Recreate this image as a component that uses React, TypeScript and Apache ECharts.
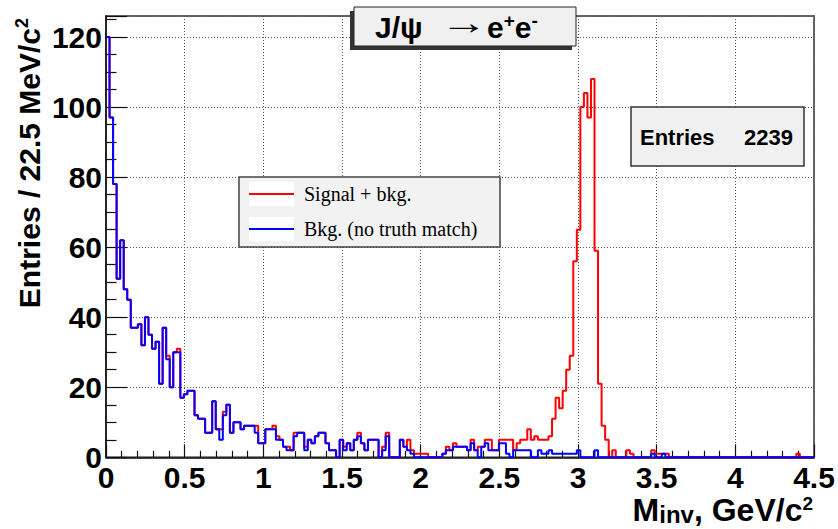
import React, { useEffect, useRef } from "react";
import * as echarts from "echarts";

// Histogram binning: 200 bins of 22.5 MeV from 0 to 4.5 GeV/c^2
const BIN_WIDTH = 0.0225;
const X_MIN = 0;
const X_MAX = 4.5;
const Y_MAX = 126;

const SERIES_NAMES = ["Signal + bkg.", "Bkg. (no truth match)"];
const ENTRIES = 2239;

// Background (no truth match) counts per bin
const bkgCounts = [
  120, 97, 78, 51, 62, 48, 45, 37, 37, 38,
  32, 40, 35, 31, 33, 21, 37, 28, 20, 30,
  30, 17, 18, 19, 19, 12, 11, 11, 7, 7,
  16, 8, 5, 12, 15, 7, 10, 10, 8, 9,
  9, 9, 7, 4, 4, 8, 8, 8, 5, 5,
  3, 2, 2, 6, 7, 7, 2, 5, 4, 6,
  7, 7, 4, 2, 2, 0, 5, 2, 4, 2,
  5, 6, 4, 2, 5, 5, 5, 0, 2, 6,
  0, 0, 0, 5, 3, 2, 1, 0, 0, 0,
  0, 0, 0, 0, 0, 1, 2, 2, 3, 3,
  3, 3, 2, 4, 2, 0, 3, 4, 2, 2,
  2, 4, 4, 1, 0, 2, 2, 2, 2, 2,
  0, 0, 2, 1, 1, 2, 1, 1, 1, 1,
  1, 1, 1, 2, 0, 0, 0, 0, 2, 0,
  0, 0, 0, 0, 0, 0, 0, 0, 0, 0,
  0, 0, 0, 0, 1, 0, 0, 1, 0, 0,
  0, 0, 0, 0, 0, 0, 0, 0, 0, 0,
  0, 0, 0, 0, 0, 0, 0, 0, 0, 0,
  0, 0, 0, 0, 0, 0, 0, 0, 0, 0,
  0, 0, 0, 0, 0, 0, 0, 0, 0, 0,
];

// Signal + background counts per bin
const totalCounts = [
  120, 97, 78, 51, 62, 48, 45, 37, 37, 38,
  32, 40, 35, 31, 33, 21, 37, 29, 20, 30,
  31, 17, 18, 19, 19, 12, 11, 11, 7, 7,
  16, 8, 8, 13, 15, 7, 10, 10, 8, 9,
  9, 9, 9, 4, 4, 8, 8, 9, 6, 5,
  3, 3, 2, 7, 7, 7, 3, 5, 4, 6,
  7, 7, 4, 2, 2, 0, 5, 3, 4, 2,
  5, 7, 4, 2, 5, 5, 5, 0, 3, 7,
  0, 0, 0, 5, 3, 5, 2, 1, 1, 1,
  1, 0, 0, 0, 0, 1, 3, 2, 4, 3,
  3, 3, 2, 5, 2, 3, 3, 5, 5, 2,
  2, 5, 5, 5, 5, 2, 4, 5, 5, 8,
  5, 6, 5, 5, 5, 6, 11, 17, 14, 19,
  25, 29, 56, 65, 100, 104, 97, 108, 59, 21,
  9, 5, 0, 2, 0, 0, 0, 2, 1, 0,
  0, 0, 0, 0, 2, 1, 1, 1, 1, 0,
  0, 0, 0, 0, 0, 0, 0, 0, 0, 0,
  0, 0, 0, 0, 0, 0, 0, 0, 0, 0,
  0, 0, 0, 0, 0, 0, 0, 0, 0, 0,
  0, 0, 0, 0, 0, 1, 0, 0, 0, 0,
];

function toSteps(counts: number[]): number[][] {
  const pts = counts.map((v, i) => [Number((i * BIN_WIDTH).toFixed(4)), v]);
  pts.push([counts.length * BIN_WIDTH, counts[counts.length - 1]]);
  return pts;
}

const SANS = "'Liberation Sans', Arial, Helvetica, sans-serif";
const SERIF = "'Liberation Serif', 'Times New Roman', serif";

export default function App() {
  const ref = useRef<HTMLDivElement>(null);

  useEffect(() => {
    if (!ref.current) return;
    const chart = echarts.init(ref.current, undefined, { renderer: "svg" });
    const gridLine = { color: "#555", type: [1, 2] as any, width: 1 };
    const option: any = {
      animation: false,
      backgroundColor: "#ffffff",
      grid: {
        left: 106,
        right: 24,
        top: 16,
        bottom: 71.7,
        show: true,
        borderColor: "#666",
        borderWidth: 2,
        backgroundColor: "transparent",
      },
      xAxis: {
        type: "value",
        min: X_MIN,
        max: X_MAX,
        interval: 0.5,
        axisLine: { show: true, onZero: false, lineStyle: { color: "#111", width: 1.5 } },
        axisTick: { show: true, inside: true, length: 13, lineStyle: { color: "#111", width: 1.2 } },
        minorTick: { show: true, splitNumber: 5, length: 6.5, lineStyle: { color: "#111", width: 1.2 } },
        splitLine: { show: true, lineStyle: gridLine },
        axisLabel: {
          fontFamily: SANS,
          fontWeight: "bold",
          fontSize: 30,
          color: "#000",
          margin: 5,
        },
      },
      yAxis: {
        type: "value",
        min: 0,
        max: Y_MAX,
        interval: 20,
        axisLine: { show: true, onZero: false, lineStyle: { color: "#111", width: 1.5 } },
        axisTick: { show: true, inside: true, length: 21, lineStyle: { color: "#111", width: 1.2 } },
        minorTick: { show: true, splitNumber: 4, length: 10.5, lineStyle: { color: "#111", width: 1.2 } },
        splitLine: { show: true, lineStyle: gridLine },
        axisLabel: {
          fontFamily: SANS,
          fontWeight: "bold",
          fontSize: 30,
          color: "#000",
          margin: 4,
          formatter: (v: number) => (v % 20 === 0 ? String(v) : ""),
        },
      },
      legend: {
        data: SERIES_NAMES,
        orient: "vertical",
        left: 239,
        top: 177,
        padding: [5, 10, 6, 10],
        itemGap: 11,
        itemWidth: 45,
        itemHeight: 2,
        icon: "rect",
        selectedMode: false,
        backgroundColor: "transparent",
        z: 6,
        textStyle: {
          fontFamily: SERIF,
          fontSize: 20,
          color: "#000",
          lineHeight: 24,
          padding: [0, 0, 0, 5],
        },
      },
      series: [
        {
          name: SERIES_NAMES[0],
          type: "line",
          step: "end",
          data: toSteps(totalCounts),
          symbol: "none",
          showSymbol: false,
          clip: false,
          z: 3,
          lineStyle: { color: "#ff0000", width: 2 },
          itemStyle: { color: "#ff0000" },
        },
        {
          name: SERIES_NAMES[1],
          type: "line",
          step: "end",
          data: toSteps(bkgCounts),
          symbol: "none",
          showSymbol: false,
          clip: false,
          z: 4,
          lineStyle: { color: "#0000ff", width: 2 },
          itemStyle: { color: "#0000ff" },
        },
      ],
      graphic: [
        // legend box background
        {
          type: "rect",
          z: 5,
          shape: { x: 239, y: 177, width: 261, height: 70 },
          style: { fill: "#f2f2f2", stroke: "#444", lineWidth: 1.5 },
        },
        {
          type: "rect",
          z: 5,
          shape: { x: 249, y: 182, width: 45, height: 24 },
          style: { fill: "#ffffff" },
        },
        {
          type: "rect",
          z: 5,
          shape: { x: 249, y: 217, width: 45, height: 24 },
          style: { fill: "#ffffff" },
        },
        // title box with shadow
        {
          type: "rect",
          z: 10,
          shape: { x: 350, y: 11, width: 222, height: 39 },
          style: { fill: "#333" },
        },
        {
          type: "rect",
          z: 10,
          shape: { x: 354, y: 7, width: 222, height: 39 },
          style: { fill: "#f0f0f0", stroke: "#222", lineWidth: 1 },
        },
        {
          type: "text",
          z: 11,
          x: 375,
          y: 27,
          style: {
            text: "J/ψ",
            font: `bold 30px ${SANS}`,
            fill: "#000",
            textAlign: "left",
            textVerticalAlign: "middle",
          },
        },
        {
          type: "text",
          z: 11,
          x: 440,
          y: 22,
          scaleX: 1.4,
          style: {
            text: "→",
            font: `normal 34px ${SANS}`,
            fill: "#000",
            textAlign: "left",
            textVerticalAlign: "middle",
          },
        },
        {
          type: "text",
          z: 11,
          x: 487,
          y: 27,
          style: {
            text: "{b|e}{s|+}{b|e}{s|-}",
            textVerticalAlign: "middle",
            textAlign: "left",
            rich: {
              b: { fontFamily: SANS, fontWeight: "bold", fontSize: 30, fill: "#000", lineHeight: 32 },
              s: { fontFamily: SANS, fontWeight: "bold", fontSize: 19, fill: "#000", lineHeight: 14, verticalAlign: "top" },
            },
          },
        },
        // stats box
        {
          type: "rect",
          z: 10,
          shape: { x: 631, y: 107, width: 173, height: 59 },
          style: { fill: "#f0f0f0", stroke: "#333", lineWidth: 1.5 },
        },
        {
          type: "text",
          z: 11,
          x: 640,
          y: 137,
          style: {
            text: "Entries",
            font: `bold 22px ${SANS}`,
            fill: "#000",
            textAlign: "left",
            textVerticalAlign: "middle",
          },
        },
        {
          type: "text",
          z: 11,
          x: 793,
          y: 137,
          style: {
            text: String(ENTRIES),
            font: `bold 22px ${SANS}`,
            fill: "#000",
            textAlign: "right",
            textVerticalAlign: "middle",
          },
        },
        // y axis title
        {
          type: "text",
          z: 11,
          x: 29,
          y: 18,
          rotation: Math.PI / 2,
          style: {
            text: "{a|Entries / 22.5 MeV/c}{s|2}",
            textAlign: "right",
            textVerticalAlign: "middle",
            rich: {
              a: { fontFamily: SANS, fontWeight: "bold", fontSize: 30, fill: "#000", lineHeight: 32 },
              s: { fontFamily: SANS, fontWeight: "bold", fontSize: 18, fill: "#000", lineHeight: 14, verticalAlign: "top" },
            },
          },
        },
        // x axis title
        {
          type: "text",
          z: 11,
          x: 813,
          y: 510,
          style: {
            text: "{a|M}{b|inv}{a|, GeV/c}{s|2}",
            textAlign: "right",
            textVerticalAlign: "middle",
            rich: {
              a: { fontFamily: SANS, fontWeight: "bold", fontSize: 32, fill: "#000", lineHeight: 32 },
              b: { fontFamily: SANS, fontWeight: "bold", fontSize: 24, fill: "#000", lineHeight: 12, verticalAlign: "bottom" },
              s: { fontFamily: SANS, fontWeight: "bold", fontSize: 19, fill: "#000", lineHeight: 14, verticalAlign: "top" },
            },
          },
        },
      ],
    };
    chart.setOption(option);
    return () => {
      chart.dispose();
    };
  }, []);

  return (
    <div
      ref={ref}
      style={{ position: "absolute", left: 0, top: 0, width: 838, height: 529 }}
    />
  );
}
